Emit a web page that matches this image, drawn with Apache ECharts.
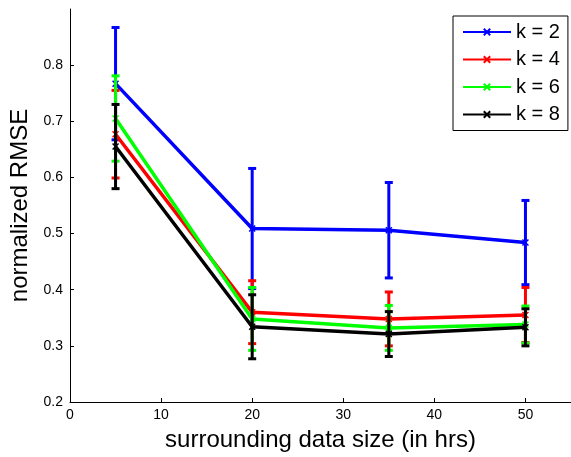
<!DOCTYPE html>
<html>
<head>
<meta charset="utf-8">
<script src="https://cdn.jsdelivr.net/npm/echarts@6/dist/echarts.min.js"></script>
<style>html,body{margin:0;padding:0;background:#fff}#c{width:571px;height:457px}</style>
</head>
<body>
<div id="c"></div>
<script>
const xs = [5, 20, 35, 50];
const names = ['k = 2', 'k = 4', 'k = 6', 'k = 8'];
const colors = ['#0000ff', '#ff0000', '#00ff00', '#000000'];
const k2 = [0.767, 0.509, 0.506, 0.484];
const k2err = [0.100, 0.107, 0.085, 0.075];
const k4 = [0.677, 0.360, 0.348, 0.355];
const k4err = [0.078, 0.056, 0.048, 0.049];
const k6 = [0.705, 0.348, 0.332, 0.338];
const k6err = [0.076, 0.056, 0.040, 0.033];
const k8 = [0.655, 0.334, 0.321, 0.333];
const k8err = [0.075, 0.057, 0.040, 0.033];
const yTicks = [0.2, 0.3, 0.4, 0.5, 0.6, 0.7, 0.8];
const xTicks = [0, 10, 20, 30, 40, 50];

const values = [k2, k4, k6, k8];
const errs = [k2err, k4err, k6err, k8err];
const FONT = 'Liberation Sans';
const xSym = 'path://M0,0L10,10M10,0L0,10';

const series = [];
values.forEach((v, i) => {
  const c = colors[i];
  series.push({
    type: 'custom',
    name: names[i] + ' error',
    z: 2 + i * 2,
    silent: true,
    itemStyle: { color: c },
    data: xs.map((x, j) => [x, v[j] - errs[i][j], v[j] + errs[i][j]]),
    renderItem: function (params, api) {
      const lo = api.coord([api.value(0), api.value(1)]);
      const hi = api.coord([api.value(0), api.value(2)]);
      const hw = 4;
      const st = { stroke: c, lineWidth: 3 };
      return {
        type: 'group',
        children: [
          { type: 'line', shape: { x1: lo[0], y1: lo[1], x2: hi[0], y2: hi[1] }, style: st },
          { type: 'line', shape: { x1: lo[0] - hw, y1: lo[1], x2: lo[0] + hw, y2: lo[1] }, style: st },
          { type: 'line', shape: { x1: hi[0] - hw, y1: hi[1], x2: hi[0] + hw, y2: hi[1] }, style: st }
        ]
      };
    }
  });
  series.push({
    type: 'line',
    name: names[i],
    z: 3 + i * 2,
    data: xs.map((x, j) => [x, v[j]]),
    symbol: xSym,
    symbolSize: 6,
    showSymbol: true,
    lineStyle: { color: c, width: 3.5 },
    itemStyle: { color: c, borderColor: c, borderWidth: 1.5 },
    animation: false
  });
});

const chart = echarts.init(document.getElementById('c'), null, { renderer: 'canvas' });
chart.setOption({
  animation: false,
  backgroundColor: '#fff',
  grid: { left: 70, top: 9, width: 507, height: 396, containLabel: false },
  xAxis: {
    type: 'value', min: 0, max: 55,
    name: 'surrounding data size (in hrs)', nameLocation: 'middle', nameGap: 26,
    nameTextStyle: { fontFamily: FONT, fontSize: 24, color: '#000' },
    axisLine: { show: true, onZero: false, lineStyle: { color: '#000', width: 1 } },
    axisTick: { show: true, inside: true, length: 4, customValues: xTicks, lineStyle: { color: '#000' } },
    axisLabel: { customValues: xTicks, fontFamily: FONT, fontSize: 14, color: '#000', margin: 6 },
    splitLine: { show: false }
  },
  yAxis: {
    type: 'value', min: 0.2, max: 0.9,
    name: 'normalized RMSE', nameLocation: 'middle', nameGap: 28,
    nameTextStyle: { fontFamily: FONT, fontSize: 24, color: '#000' },
    axisLine: { show: true, onZero: false, lineStyle: { color: '#000', width: 1 } },
    axisTick: { show: true, inside: true, length: 4, customValues: yTicks, lineStyle: { color: '#000' } },
    axisLabel: { customValues: yTicks, fontFamily: FONT, fontSize: 14, color: '#000', margin: 7, formatter: v => v.toFixed(1) },
    splitLine: { show: false }
  },
  legend: {
    data: names,
    orient: 'vertical',
    left: 453, top: 16,
    padding: [6, 8, 6, 9],
    itemGap: 7.5,
    itemWidth: 48, itemHeight: 8,
    borderColor: '#000', borderWidth: 1,
    backgroundColor: '#fff',
    textStyle: { fontFamily: FONT, fontSize: 20, color: '#000', lineHeight: 20 },
    selectedMode: false
  },
  series: series
});
</script>
</body>
</html>
